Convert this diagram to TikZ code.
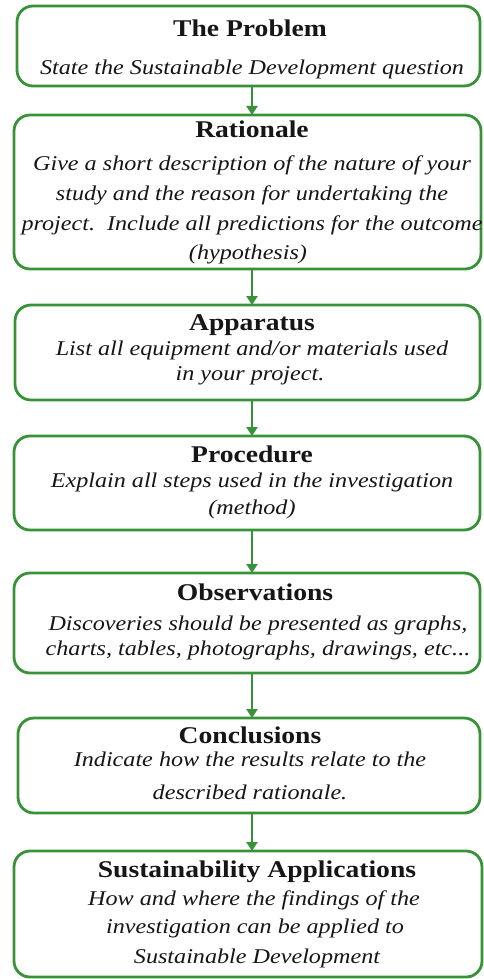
\documentclass[tikz,border=0pt]{standalone}
\usepackage{fontspec}
\usetikzlibrary{arrows.meta}
\newfontfamily\serifst[FakeStretch=1.15]{Liberation Serif}
\definecolor{boxgreen}{RGB}{56,146,56}
\definecolor{txt}{RGB}{22,22,22}
\begin{document}
\begin{tikzpicture}[x=1pt,y=1pt,
  flowbox/.style={draw=boxgreen, line width=2.8pt, rounded corners=16pt, fill=white, inner sep=0pt, outer sep=0pt},
  ttl/.style={anchor=base, inner sep=0pt, text=txt, font=\serifst\bfseries\fontsize{24}{28}\selectfont},
  bdy/.style={anchor=base, inner sep=0pt, text=txt, font=\serifst\itshape\fontsize{21}{25}\selectfont},
  arr/.style={draw=boxgreen, line width=2.8pt, -{Triangle[width=11pt,length=9pt]}}]
\useasboundingbox (0,0) rectangle (484,-979);
\fill[white] (0,0) rectangle (484,-979);
\coordinate (ax) at (252,0);
% boxes
\node[flowbox, minimum width=463pt, minimum height=80pt]  (b1) at (248.5,-46) {};
\node[flowbox, minimum width=467pt, minimum height=154pt] (b2) at (247.5,-192) {};
\node[flowbox, minimum width=465pt, minimum height=95pt]  (b3) at (247.5,-352.5) {};
\node[flowbox, minimum width=466pt, minimum height=94pt]  (b4) at (247,-483) {};
\node[flowbox, minimum width=466pt, minimum height=100pt] (b5) at (247,-623) {};
\node[flowbox, minimum width=462pt, minimum height=95pt]  (b6) at (249,-765.5) {};
\node[flowbox, minimum width=468pt, minimum height=126pt] (b7) at (248,-914) {};
% texts
\node[ttl] (t1) at (250,-37) {The Problem};
\node[bdy] (t1a) at (252,-75) {State the Sustainable Development question};
\node[ttl] (t2) at (252,-138) {Rationale};
\node[bdy] (t2a) at (252,-170) {Give a short description of the nature of your};
\node[bdy] (t2b) at (252,-200) {study and the reason for undertaking the};
\node[bdy] (t2c) at (252,-230) {project.\ \ Include all predictions for the outcome};
\node[bdy] (t2d) at (248,-259) {(hypothesis)};
\node[ttl] (t3) at (252,-330) {Apparatus};
\node[bdy] (t3a) at (252,-355) {List all equipment and/or materials used};
\node[bdy] (t3b) at (250,-380) {in your project.};
\node[ttl] (t4) at (252,-462) {Procedure};
\node[bdy] (t4a) at (252,-487) {Explain all steps used in the investigation};
\node[bdy] (t4b) at (252,-514) {(method)};
\node[ttl] (t5) at (255,-600) {Observations};
\node[bdy] (t5a) at (258,-630) {Discoveries should be presented as graphs,};
\node[bdy] (t5b) at (258,-655) {charts, tables, photographs, drawings, etc...};
\node[ttl] (t6) at (250,-743) {Conclusions};
\node[bdy] (t6a) at (250,-766) {Indicate how the results relate to the};
\node[bdy] (t6b) at (250,-799) {described rationale.};
\node[ttl] (t7) at (257,-877) {Sustainability Applications};
\node[bdy] (t7a) at (254,-905) {How and where the findings of the};
\node[bdy] (t7b) at (255,-933) {investigation can be applied to};
\node[bdy] (t7c) at (257,-963) {Sustainable Development};
% arrows
\draw[arr] (b1.south -| ax) -- (b2.north -| ax);
\draw[arr] (b2.south -| ax) -- (b3.north -| ax);
\draw[arr] (b3.south -| ax) -- (b4.north -| ax);
\draw[arr] (b4.south -| ax) -- (b5.north -| ax);
\draw[arr] (b5.south -| ax) -- (b6.north -| ax);
\draw[arr] (b6.south -| ax) -- (b7.north -| ax);
\end{tikzpicture}
\end{document}
